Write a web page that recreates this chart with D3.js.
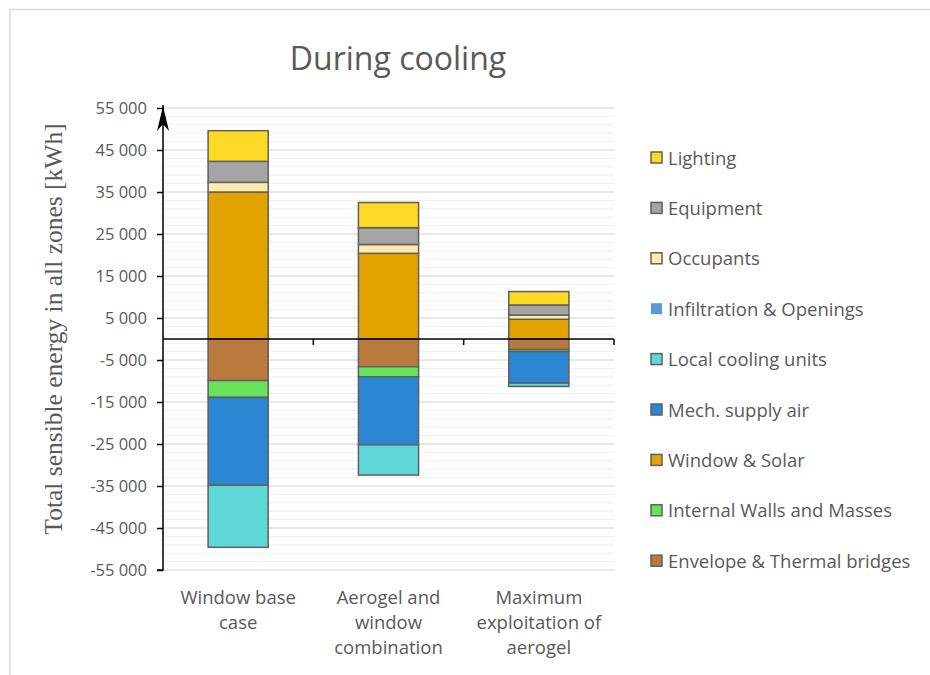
<!DOCTYPE html>
<html>
<head>
<meta charset="utf-8">
<script src="https://cdn.jsdelivr.net/npm/d3@7"></script>
<style>
html,body{margin:0;padding:0;background:#fff;}
svg{display:block;}
</style>
</head>
<body>
<svg id="chart" width="930" height="675"></svg>
<script>
// ---- data ----
const categories = ["Window base case", "Aerogel and window combination", "Maximum exploitation of aerogel"];
const categoryLines = [["Window base", "case"], ["Aerogel and", "window", "combination"], ["Maximum", "exploitation of", "aerogel"]];
const seriesNames = ["Envelope & Thermal bridges", "Internal Walls and Masses", "Window & Solar", "Mech. supply air", "Local cooling units", "Infiltration & Openings", "Occupants", "Equipment", "Lighting"];
const envelope     = [-9900, -6600, -2500];
const internalWalls= [-4000, -2400, -500];
const windowSolar  = [35000, 20400, 4700];
const mechSupply   = [-20900, -16200, -7500];
const localCooling = [-14800, -7200, -800];
const infiltration = [0, 0, 0];
const occupants    = [2300, 2100, 1000];
const equipment    = [5000, 4000, 2400];
const lighting     = [7300, 6000, 3200];
const majorTicks = [55000, 45000, 35000, 25000, 15000, 5000, -5000, -15000, -25000, -35000, -45000, -55000];
const colors = ["#BA7A3D", "#69E35B", "#E2A300", "#2B87D1", "#5DD8D6", "#5B9BD5", "#FFEBAA", "#A5A5A5", "#FED926"];

const seriesValues = [envelope, internalWalls, windowSolar, mechSupply, localCooling, infiltration, occupants, equipment, lighting];
const table = categories.map((c, i) => {
  const row = {category: c};
  seriesNames.forEach((s, k) => row[s] = seriesValues[k][i]);
  return row;
});

const svg = d3.select("#chart");
const grey = "#595959";

// chart border
svg.append("rect").attr("x", 10).attr("y", 9.5).attr("width", 940).attr("height", 700)
  .attr("fill", "none").attr("stroke", "#d9d9d9").attr("stroke-width", 1.5);

const y = d3.scaleLinear().domain([-55000, 55000]).range([570, 108]);
const x = d3.scaleBand().domain(categories).range([163, 614]).padding(0);
const x0 = 163, x1 = 614;

// minor gridlines
const minor = d3.range(-55000, 55001, 2000);
svg.append("g").selectAll("line").data(minor).join("line")
  .attr("x1", x0).attr("x2", x1).attr("y1", d => y(d)).attr("y2", d => y(d))
  .attr("stroke", "#efefef").attr("stroke-width", 1);
svg.append("g").selectAll("line").data(majorTicks).join("line")
  .attr("x1", x0).attr("x2", x1).attr("y1", d => y(d)).attr("y2", d => y(d))
  .attr("stroke", "#d9d9d9").attr("stroke-width", 1);

// stacked bars
const stack = d3.stack().keys(seriesNames).offset(d3.stackOffsetDiverging);
const stacked = stack(table);
const barW = x.bandwidth() * 0.4;
stacked.forEach((layer, k) => {
  const isInf = seriesNames[k] === "Infiltration & Openings";
  svg.append("g").selectAll("rect").data(layer.filter(d => d[1] !== d[0])).join("rect")
    .attr("x", d => x(d.data.category) + (x.bandwidth() - barW) / 2)
    .attr("width", barW)
    .attr("y", d => y(Math.max(d[0], d[1])))
    .attr("height", d => Math.abs(y(d[0]) - y(d[1])))
    .attr("fill", colors[k])
    .attr("stroke", isInf ? "none" : "#5f5f5f")
    .attr("stroke-width", 1.5);
});

// y axis
const fmt = d => (d < 0 ? "-" : "") + d3.format(",")(Math.abs(d)).replace(/,/g, " ");
const yAxis = svg.append("g").attr("transform", `translate(${x0},0)`)
  .call(d3.axisLeft(y).tickValues(majorTicks).tickSize(6).tickPadding(10).tickFormat(fmt));
yAxis.select(".domain").attr("stroke", "#000").attr("stroke-width", 1.5).attr("d", `M-6,${y(-55000)}H0V105`);
yAxis.selectAll(".tick line").attr("stroke", "#000").attr("stroke-width", 1.5);
yAxis.selectAll(".tick text").attr("fill", grey).style("font-family", "'Open Sans', sans-serif").style("font-size", "16.5px");
// arrow head
svg.append("path").attr("d", `M${x0},106 L${x0 + 6},131 L${x0},124 L${x0 - 6},131 Z`).attr("fill", "#000");

// x axis at zero
const y0 = y(0);
svg.append("line").attr("x1", x0).attr("x2", x1).attr("y1", y0).attr("y2", y0).attr("stroke", "#000").attr("stroke-width", 1.5);
const bounds = categories.map(c => x(c) + x.bandwidth());
svg.append("g").selectAll("line").data(bounds).join("line")
  .attr("x1", d => d).attr("x2", d => d).attr("y1", y0).attr("y2", y0 + 6)
  .attr("stroke", "#000").attr("stroke-width", 1.5);

// category labels
categories.forEach((c, i) => {
  const t = svg.append("text").attr("text-anchor", "middle").attr("fill", grey)
    .style("font-family", "'Open Sans', sans-serif").style("font-size", "18.5px");
  categoryLines[i].forEach((ln, j) => {
    t.append("tspan").attr("x", x(c) + x.bandwidth() / 2).attr("y", 604 + j * 25).text(ln);
  });
});

// title
svg.append("text").attr("x", 398).attr("y", 70).attr("text-anchor", "middle").attr("fill", grey)
  .style("font-family", "'Open Sans', sans-serif").style("font-size", "32px").text("During cooling");

// y title
svg.append("text").attr("transform", "translate(62,329) rotate(-90)").attr("text-anchor", "middle")
  .attr("fill", grey).style("font-family", "'Liberation Serif', serif").style("font-size", "25.5px")
  .text("Total sensible energy in all zones [kWh]");

// legend (reverse order)
const legendOrder = seriesNames.map((s, k) => k).reverse();
legendOrder.forEach((k, i) => {
  const ly = 158 + i * 50.4;
  svg.append("rect").attr("x", 651).attr("y", ly - 6).attr("width", 11).attr("height", 11)
    .attr("fill", colors[k]).attr("stroke", seriesNames[k] === "Infiltration & Openings" ? "none" : "#5f5f5f").attr("stroke-width", 1.5);
  svg.append("text").attr("x", 668).attr("y", ly + 6.5).attr("fill", grey)
    .style("font-family", "'Open Sans', sans-serif").style("font-size", "18.5px").text(seriesNames[k]);
});
</script>
</body>
</html>
